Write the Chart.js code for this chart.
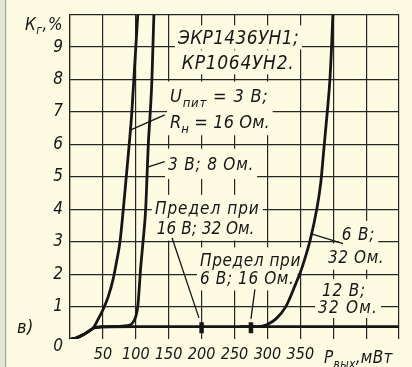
<!DOCTYPE html>
<html>
<head>
<meta charset="utf-8">
<script src="https://cdn.jsdelivr.net/npm/chart.js@4/dist/chart.umd.min.js"></script>
<style>
  html, body { margin: 0; padding: 0; background: #fefbe3; }
  canvas { display: block; }
</style>
</head>
<body>
<canvas id="c" width="412" height="367"></canvas>
<script>
// Harmonic distortion (%) against output power (mW)

// Uпит = 3 В, Rн = 16 Ом
const powerA = [2, 10, 20, 30, 36, 43, 50, 58, 65, 70, 76, 81, 85.5, 90, 94, 97, 100, 103];
const distA  = [0, 0.04, 0.13, 0.26, 0.36, 0.62, 0.9, 1.3, 1.8, 2.3, 3.0, 4.0, 5.0, 6.0, 7.0, 8.0, 9.0, 10];

// 3 В, 8 Ом
const powerB = [2, 10, 20, 30, 36, 50, 80, 92, 97, 100, 103, 105, 107, 111, 115, 117, 119, 122, 124.5, 126, 127.5];
const distB  = [0, 0.04, 0.13, 0.26, 0.34, 0.38, 0.4, 0.44, 0.55, 0.7, 1.0, 1.5, 2.1, 3.0, 4.0, 5.0, 6.0, 7.0, 8.0, 9.0, 10];

// 6 В, 32 Ом
const powerC = [260, 280, 290, 300, 313, 328, 343, 350, 358, 365, 375, 381, 386, 391, 395, 397.5, 399.5];
const distC  = [0.38, 0.38, 0.39, 0.45, 0.62, 1.0, 1.7, 2.05, 2.55, 3.05, 4.0, 4.8, 5.9, 7.0, 8.0, 9.0, 10];

// 12 В, 32 Ом
const powerD = [2, 10, 20, 30, 36, 50, 100, 200, 300, 400, 500];
const distD  = [0, 0.04, 0.13, 0.26, 0.34, 0.37, 0.38, 0.38, 0.38, 0.38, 0.38];

// Power limits: 16 В; 32 Ом and 6 В; 16 Ом
const limitPowers = [200, 275];
const limitSpan = [0.18, 0.52];

const xTickValues = [50, 100, 150, 200, 250, 300, 350];
const yTickValues = [0, 1, 2, 3, 4, 5, 6, 7, 8, 9];

const FONT = "'Liberation Sans Narrow', 'DejaVu Sans Condensed', 'Liberation Sans', sans-serif";
const INK = '#161616';
const PAPER = '#fefbe3';

function pts(xs, ys) { return xs.map((x, i) => ({ x: x, y: ys[i] })); }

const curve = {
  borderColor: INK, borderWidth: 2.8, pointRadius: 0, fill: false,
  cubicInterpolationMode: 'monotone', borderCapStyle: 'round', borderJoinStyle: 'round'
};

// Text notes on the plot: left edge and line centre in data units
const notes = [
  { x: 164, y: 9.30, size: 19, ls: 0.3, pad: [3, 4], segs: [['ЭКР1436УН1;']] },
  { x: 170, y: 8.53, size: 19, ls: 0.7, pad: [3, 4], segs: [['КР1064УН2.']] },
  { x: 152, y: 7.52, size: 18, ls: 0.8, pad: [3, 6], segs: [['U'], ['пит', 1], [' = 3 В;']] },
  { x: 152, y: 6.70, size: 18, ls: 0.1, pad: [3, 6], segs: [['R'], ['н', 1], [' = 16 Ом.']] },
  { x: 149, y: 5.40, size: 17, ls: 0.8, pad: [3, 8], segs: [['3 В; 8 Ом.']] },
  { x: 129, y: 4.04, size: 17, ls: 1.0, pad: [3, 6], segs: [['Предел при']] },
  { x: 132, y: 3.44, size: 17, ls: 0.0, pad: [3, 6], segs: [['16 В; 32 Ом.']] },
  { x: 197.6, y: 2.45, size: 17, ls: 0.6, pad: [3, 5], segs: [['Предел при']] },
  { x: 197.6, y: 1.87, size: 17, ls: 0.6, pad: [3, 5], segs: [['6 В; 16 Ом.']] },
  { x: 413, y: 3.24, size: 17, ls: 0.8, pad: [3, 6], segs: [['6 В;']] },
  { x: 392, y: 2.54, size: 17, ls: 0.6, pad: [3, 6], segs: [['32 Ом.']] },
  { x: 383, y: 1.51, size: 17, ls: 0.8, pad: [3, 4], segs: [['12 В;']] },
  { x: 377, y: 0.99, size: 17, ls: 1.2, pad: [3, 4], segs: [['32 Ом.']] }
];

// Leader lines from notes to curves, data units
const leaders = [
  [144, 6.91, 92.5, 6.45],
  [144, 5.47, 117.8, 5.3],
  [155, 3.12, 196, 0.65],
  [281, 1.53, 275, 0.62],
  [415, 2.94, 367, 3.24]
];

function drawSegs(ctx, x, baseline, size, ls, segs, measureOnly) {
  let cx = x;
  for (const s of segs) {
    const sub = s[1];
    const fs = sub ? Math.round(size * 0.72) : size;
    ctx.font = 'italic ' + fs + 'px ' + FONT;
    ctx.letterSpacing = ls + 'px';
    if (!measureOnly) ctx.fillText(s[0], cx, baseline + (sub ? size * 0.28 : 0));
    cx += ctx.measureText(s[0]).width;
  }
  return cx - x;
}

const notesPlugin = {
  id: 'notes',
  beforeDraw(chart) {
    const ctx = chart.ctx;
    ctx.save();
    ctx.fillStyle = PAPER;
    ctx.fillRect(0, 0, chart.width, chart.height);
    ctx.fillStyle = '#e3e8d6';
    ctx.fillRect(0, 0, 5, chart.height);
    ctx.strokeStyle = '#9ea393';
    ctx.lineWidth = 1.2;
    ctx.beginPath();
    ctx.moveTo(5.6, 0);
    ctx.lineTo(5.6, chart.height);
    ctx.stroke();
    ctx.restore();
  },
  beforeDatasetsDraw(chart) {
    const ctx = chart.ctx, xs = chart.scales.x, ys = chart.scales.y;
    ctx.save();
    ctx.fillStyle = PAPER;
    for (const n of notes) {
      const px = xs.getPixelForValue(n.x), py = ys.getPixelForValue(n.y);
      const w = drawSegs(ctx, px, 0, n.size, n.ls, n.segs, true);
      ctx.fillRect(px - n.pad[0], py - n.size * 0.42 - n.pad[1], w + 2 * n.pad[0], n.size * 0.84 + 2 * n.pad[1]);
    }
    ctx.restore();
  },
  afterDatasetsDraw(chart) {
    const ctx = chart.ctx, xs = chart.scales.x, ys = chart.scales.y, area = chart.chartArea;
    ctx.save();
    ctx.strokeStyle = INK;
    ctx.lineWidth = 1.3;
    for (const l of leaders) {
      ctx.beginPath();
      ctx.moveTo(xs.getPixelForValue(l[0]), ys.getPixelForValue(l[1]));
      ctx.lineTo(xs.getPixelForValue(l[2]), ys.getPixelForValue(l[3]));
      ctx.stroke();
    }
    ctx.fillStyle = INK;
    ctx.textAlign = 'left';
    ctx.textBaseline = 'alphabetic';
    for (const n of notes) {
      const px = xs.getPixelForValue(n.x), py = ys.getPixelForValue(n.y);
      drawSegs(ctx, px, py + n.size * 0.36, n.size, n.ls, n.segs, false);
    }
    // axis titles and panel letter
    drawSegs(ctx, area.left - 45, area.top + 15, 17, 0.5, [['К'], ['г', 1], [',%']], false);
    drawSegs(ctx, area.left - 53, ys.getPixelForValue(0.37) + 6, 18, 0.5, [['в)']], false);
    drawSegs(ctx, area.right - 75, area.bottom + 24, 17, 0.3, [['P'], ['вых', 1], [',мВт']], false);
    ctx.restore();
  }
};

new Chart(document.getElementById('c'), {
  type: 'line',
  data: {
    datasets: [
      Object.assign({ label: '3 В; 16 Ом', data: pts(powerA, distA) }, curve),
      Object.assign({ label: '3 В; 8 Ом', data: pts(powerB, distB) }, curve),
      Object.assign({ label: '6 В; 32 Ом', data: pts(powerC, distC) }, curve),
      Object.assign({ label: '12 В; 32 Ом', data: pts(powerD, distD) }, curve)
    ].concat(limitPowers.map(p => ({
      label: 'Предел',
      data: [{ x: p, y: limitSpan[0] }, { x: p, y: limitSpan[1] }],
      borderColor: INK, borderWidth: 4.5, pointRadius: 0, borderCapStyle: 'butt'
    })))
  },
  options: {
    responsive: false,
    animation: false,
    devicePixelRatio: 1,
    layout: { padding: { top: 12, right: 13, left: 0, bottom: 0 } },
    plugins: { legend: { display: false }, tooltip: { enabled: false } },
    scales: {
      x: {
        type: 'linear', min: 0, max: 500,
        afterFit(s) { s.height = 28; },
        border: { display: false },
        grid: { color: '#262626', lineWidth: 1.2, drawTicks: false },
        ticks: {
          stepSize: 50, padding: 6, color: INK, maxRotation: 0, autoSkip: false,
          font: { family: FONT, size: 16, style: 'italic' },
          callback: v => xTickValues.includes(v) ? String(v) : ''
        }
      },
      y: {
        min: 0, max: 10,
        afterFit(s) { s.width = 70; },
        border: { display: true, color: '#262626', width: 1.2 },
        grid: {
          drawTicks: false, lineWidth: 1.2,
          color: c => (c.tick && c.tick.value === 0) ? 'rgba(0,0,0,0)' : '#262626'
        },
        ticks: {
          stepSize: 1, padding: 7, color: INK, autoSkip: false,
          font: { family: FONT, size: 17, style: 'italic', lineHeight: 0.9 },
          callback: v => !yTickValues.includes(v) ? '' : (v === 0 ? ['', '0'] : String(v))
        }
      }
    }
  },
  plugins: [notesPlugin]
});
</script>
</body>
</html>
